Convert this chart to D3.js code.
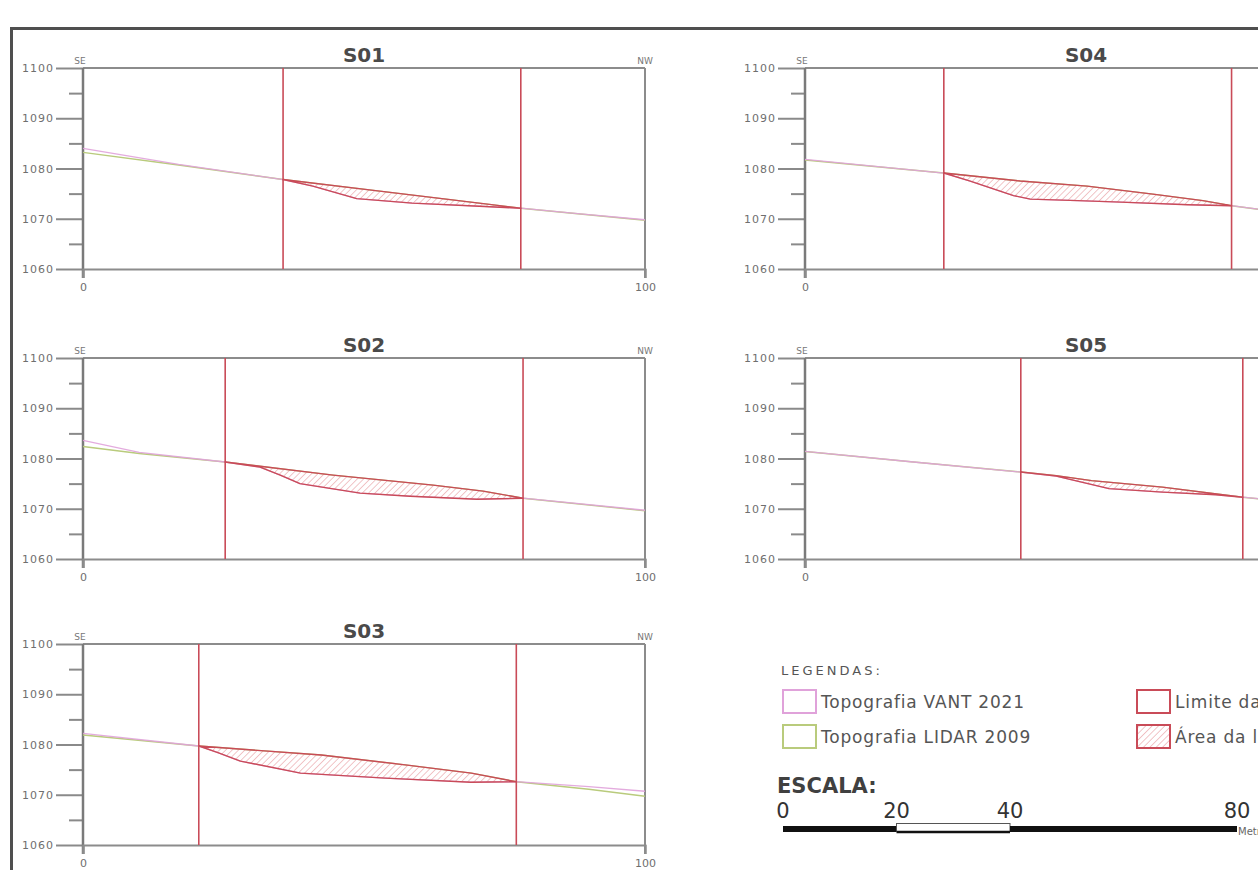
<!DOCTYPE html>
<html>
<head>
<meta charset="utf-8">
<script src="https://cdn.jsdelivr.net/npm/d3@7"></script>
<style>
  body { margin: 0; background: #fff; }
  svg { display: block; font-family: "DejaVu Sans", Verdana, sans-serif; }
</style>
</head>
<body>
<svg id="chart" width="1258" height="870"></svg>
<script>
// section names and axis ticks
var sectionNames = ["S01", "S02", "S03", "S04", "S05"];
var elevTicks = [1060, 1070, 1080, 1090, 1100];
var elevMinor = [1065, 1075, 1085, 1095];
var distTicks = [0, 100];

// profiles: [distance (m), elevation (m)]
var limitsS01 = [35.6, 77.9];
var lidarS01 = [[0, 1083.2], [17, 1080.7], [35.6, 1077.8], [52.8, 1075.5], [64.6, 1073.9], [77.9, 1072.1], [88, 1071.0], [100, 1069.7]];
var vantS01 = [[0, 1084.0], [17, 1080.8], [35.6, 1077.8], [40.9, 1076.5], [48.7, 1074.0], [58.6, 1073.1], [70.5, 1072.5], [77.9, 1072.1], [88, 1071.0], [100, 1069.8]];

var limitsS02 = [25.3, 78.3];
var lidarS02 = [[0, 1082.4], [10, 1081.0], [25.3, 1079.3], [44.5, 1076.7], [62.3, 1074.7], [71.2, 1073.5], [78.3, 1072.1], [100, 1069.6]];
var vantS02 = [[0, 1083.6], [10, 1081.2], [25.3, 1079.3], [31.5, 1078.3], [35.1, 1076.7], [38.6, 1075.0], [49.3, 1073.1], [58.2, 1072.5], [70.1, 1071.9], [78.3, 1072.1], [100, 1069.7]];

var limitsS03 = [20.6, 77.1];
var lidarS03 = [[0, 1081.9], [20.6, 1079.7], [42.4, 1077.9], [57.7, 1075.9], [69.1, 1074.3], [77.1, 1072.6], [90, 1071.1], [100, 1069.7]];
var vantS03 = [[0, 1082.2], [20.6, 1079.7], [24, 1078.4], [28, 1076.7], [38.7, 1074.3], [53.8, 1073.3], [69, 1072.5], [77.1, 1072.6], [90, 1071.6], [100, 1070.7]];

var limitsS04 = [24.7, 75.9];
var lidarS04 = [[0, 1081.7], [24.7, 1079.1], [38.3, 1077.5], [50.2, 1076.5], [61.9, 1074.9], [70.8, 1073.6], [75.9, 1072.6], [80.6, 1071.9], [100, 1069.6]];
var vantS04 = [[0, 1081.8], [24.7, 1079.1], [29.4, 1077.5], [37.1, 1074.6], [40.1, 1073.9], [48.5, 1073.6], [56.2, 1073.3], [68.1, 1072.8], [75.9, 1072.6], [80.6, 1071.9], [100, 1069.7]];

var limitsS05 = [38.4, 77.9];
var lidarS05 = [[0, 1081.4], [19.3, 1079.3], [38.4, 1077.3], [44.7, 1076.6], [51, 1075.6], [63.6, 1074.3], [77.9, 1072.3], [80.6, 1072.0], [100, 1070.0]];
var vantS05 = [[0, 1081.4], [19.3, 1079.3], [38.4, 1077.3], [44.7, 1076.5], [54.1, 1074.0], [63.6, 1073.3], [73.1, 1072.8], [77.9, 1072.3], [80.6, 1072.0], [100, 1070.1]];

// legend and scale bar
var legendTitle = "LEGENDAS:";
var legendLabels = ["Topografia VANT 2021", "Topografia LIDAR 2009", "Limite da lavra", "Área da lavra"];
var scaleTitle = "ESCALA:";
var scaleTicks = [0, 20, 40, 80];
var scaleUnit = "Metros";

var pink = "#e0a2da", green = "#b9cb7c", red = "#c94b58";

var svg = d3.select("#chart");
var W = 1258;
var colX = [83, 805], rowY = [68, 358, 644];
var panelW = 562, panelH = 201;

var defs = svg.append("defs");
var pat = defs.append("pattern")
    .attr("id", "hatch")
    .attr("patternUnits", "userSpaceOnUse")
    .attr("width", 4.5).attr("height", 4.5)
    .attr("patternTransform", "rotate(45)");
pat.append("line")
    .attr("x1", 0).attr("y1", 0).attr("x2", 0).attr("y2", 4.5)
    .attr("stroke", "#e6959b").attr("stroke-width", 1.1);

// outer frame (runs off the right and bottom edge)
svg.append("rect")
    .attr("x", 11.5).attr("y", 28.5)
    .attr("width", 1400).attr("height", 1000)
    .attr("fill", "none").attr("stroke", "#4f4f4f").attr("stroke-width", 3);

var panels = [
    {name: sectionNames[0], col: 0, row: 0, lidar: lidarS01, vant: vantS01, limits: limitsS01},
    {name: sectionNames[1], col: 0, row: 1, lidar: lidarS02, vant: vantS02, limits: limitsS02},
    {name: sectionNames[2], col: 0, row: 2, lidar: lidarS03, vant: vantS03, limits: limitsS03},
    {name: sectionNames[3], col: 1, row: 0, lidar: lidarS04, vant: vantS04, limits: limitsS04},
    {name: sectionNames[4], col: 1, row: 1, lidar: lidarS05, vant: vantS05, limits: limitsS05}
];

panels.forEach(function(p) {
    var ox = colX[p.col];
    var g = svg.append("g")
        .attr("transform", "translate(" + ox + "," + rowY[p.row] + ")");

    var x = d3.scaleLinear().domain([0, 100]).range([0, panelW]);
    var y = d3.scaleLinear().domain([1060, 1100]).range([panelH, 0]);
    // the right column runs past the page edge, as in the original figure
    var fits = ox + panelW < W;

    g.append("text")
        .attr("x", panelW / 2).attr("y", -6)
        .attr("text-anchor", "middle")
        .attr("font-size", 20).attr("font-weight", "bold")
        .attr("fill", "#4a4a4a")
        .text(p.name);

    g.append("text")
        .attr("x", -3).attr("y", -4)
        .attr("text-anchor", "middle")
        .attr("font-size", 9).attr("fill", "#777")
        .text("SE");
    if (fits) {
        g.append("text")
            .attr("x", panelW).attr("y", -4)
            .attr("text-anchor", "middle")
            .attr("font-size", 9).attr("fill", "#777")
            .text("NW");
    }

    // frame: top and right
    g.append("line")
        .attr("x1", 0).attr("x2", panelW).attr("y1", 0).attr("y2", 0)
        .attr("stroke", "#8c8c8c").attr("stroke-width", 2);
    g.append("line")
        .attr("x1", panelW).attr("x2", panelW).attr("y1", 0).attr("y2", panelH + 9)
        .attr("stroke", "#8c8c8c").attr("stroke-width", 2);

    // y axis
    var ya = g.append("g")
        .call(d3.axisLeft(y).tickValues(elevTicks).tickSize(27).tickPadding(2).tickFormat(d3.format("d")));
    ya.select(".domain").remove();
    ya.attr("font-size", null).attr("font-family", null);
    ya.selectAll("line").attr("stroke", "#8a8a8a").attr("stroke-width", 2);
    ya.selectAll("text").attr("font-size", 11).attr("letter-spacing", 1).attr("fill", "#6f6f6f");

    var ym = g.append("g")
        .call(d3.axisLeft(y).tickValues(elevMinor).tickSize(14).tickFormat(""));
    ym.select(".domain").remove();
    ym.selectAll("line").attr("stroke", "#8a8a8a").attr("stroke-width", 2);

    g.append("line")
        .attr("x1", 0).attr("x2", 0).attr("y1", 0).attr("y2", panelH + 9)
        .attr("stroke", "#7a7a7a").attr("stroke-width", 2.5);

    // x axis
    var xa = g.append("g")
        .attr("transform", "translate(0," + panelH + ")")
        .call(d3.axisBottom(x).tickValues(fits ? distTicks : distTicks.slice(0, 1)).tickSize(9).tickPadding(5));
    xa.attr("font-size", null).attr("font-family", null);
    xa.select(".domain").attr("stroke", "#8c8c8c").attr("stroke-width", 2);
    xa.selectAll("line").attr("stroke", "#8c8c8c").attr("stroke-width", 2);
    xa.selectAll("text").attr("font-size", 11).attr("fill", "#6f6f6f");

    var line = d3.line().x(function(d) { return x(d[0]); }).y(function(d) { return y(d[1]); });

    // topography profiles
    g.append("path").attr("d", line(p.lidar))
        .attr("fill", "none").attr("stroke", green).attr("stroke-width", 1.4);
    g.append("path").attr("d", line(p.vant))
        .attr("fill", "none").attr("stroke", pink).attr("stroke-width", 1.3).attr("opacity", 0.9);

    // hatched area between the two surfaces inside the limits
    var lim = p.limits;
    var inZone = function(d) { return d[0] >= lim[0] - 1e-6 && d[0] <= lim[1] + 1e-6; };
    var poly = p.lidar.filter(inZone).concat(p.vant.filter(inZone).reverse());
    g.append("path").attr("d", line(poly) + "Z")
        .attr("fill", "url(#hatch)")
        .attr("stroke", red).attr("stroke-width", 1.4).attr("stroke-linejoin", "round");

    // limit lines
    g.selectAll(".limit").data(lim).enter().append("line")
        .attr("class", "limit")
        .attr("x1", function(d) { return x(d); }).attr("x2", function(d) { return x(d); })
        .attr("y1", 0).attr("y2", panelH)
        .attr("stroke", red).attr("stroke-width", 1.6);
});

// legend
svg.append("text")
    .attr("x", 781).attr("y", 675)
    .attr("font-size", 13).attr("letter-spacing", 3).attr("fill", "#555")
    .text(legendTitle);

var legendCol = [783, 1137], legendRow = [690, 725];
var legendStroke = [pink, green, red, red];
var legendFill = ["#fff", "#fff", "#fff", "url(#hatch)"];
legendLabels.forEach(function(label, i) {
    var lx = legendCol[Math.floor(i / 2)], ly = legendRow[i % 2];
    svg.append("rect")
        .attr("x", lx).attr("y", ly).attr("width", 33).attr("height", 23)
        .attr("fill", legendFill[i]).attr("stroke", legendStroke[i]).attr("stroke-width", 2);
    svg.append("text")
        .attr("x", lx + 38).attr("y", ly + 18)
        .attr("font-size", 17).attr("letter-spacing", 0.8).attr("fill", "#555")
        .text(label);
});

// scale bar
svg.append("text")
    .attr("x", 777).attr("y", 793)
    .attr("font-size", 21).attr("font-weight", "bold").attr("fill", "#404040")
    .text(scaleTitle);

var sx = d3.scaleLinear().domain([0, 80]).range([783, 1237]);
svg.selectAll(".scale-num").data(scaleTicks).enter().append("text")
    .attr("class", "scale-num")
    .attr("x", function(d) { return sx(d); }).attr("y", 818)
    .attr("text-anchor", "middle")
    .attr("font-size", 21).attr("fill", "#333")
    .text(function(d) { return d; });

var segs = d3.pairs(scaleTicks);
segs.forEach(function(s, i) {
    if (i % 2 === 0) {
        svg.append("rect")
            .attr("x", sx(s[0])).attr("y", 826).attr("width", sx(s[1]) - sx(s[0])).attr("height", 6)
            .attr("fill", "#111");
    } else {
        svg.append("rect")
            .attr("x", sx(s[0])).attr("y", 823.5).attr("width", sx(s[1]) - sx(s[0])).attr("height", 8)
            .attr("fill", "#fff").attr("stroke", "#555").attr("stroke-width", 1);
        svg.append("line")
            .attr("x1", sx(s[0])).attr("x2", sx(s[1])).attr("y1", 832).attr("y2", 832)
            .attr("stroke", "#111").attr("stroke-width", 2.5);
    }
});
svg.append("text")
    .attr("x", sx(80) + 1).attr("y", 835)
    .attr("font-size", 10).attr("fill", "#666")
    .text(scaleUnit);
</script>
</body>
</html>
